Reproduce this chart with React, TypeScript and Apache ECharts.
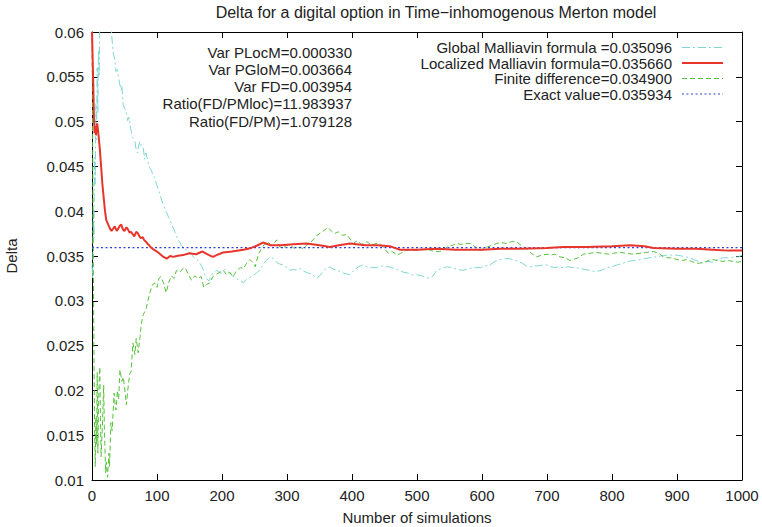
import React, { useEffect, useRef } from "react";
import * as echarts from "echarts";

const TITLE = "Delta for a digital option in Time\u2212inhomogenous Merton model";
const X_LABEL = "Number of simulations";
const Y_LABEL = "Delta";

const LEGEND_LABELS = [
  "Global Malliavin formula =0.035096",
  "Localized Malliavin formula=0.035660",
  "Finite difference=0.034900",
  "Exact value=0.035934",
];

const NOTES = [
  "Var PLocM=0.000330",
  "Var PGloM=0.003664",
  "Var FD=0.003954",
  "Ratio(FD/PMloc)=11.983937",
  "Ratio(FD/PM)=1.079128",
];

const globalMalliavin: [number, number][] = [
  [0, 0.034], [1, 0.0325], [2, 0.04], [3, 0.037], [4, 0.046], [5, 0.043], [6, 0.052], [7, 0.048],
  [8, 0.056], [9, 0.051], [10, 0.058], [11, 0.055], [12, 0.062], [14, 0.066], [17, 0.07], [20, 0.068],
  [23, 0.065], [25, 0.062], [27, 0.06], [29, 0.061], [31, 0.059], [33, 0.0575], [35, 0.057], [37, 0.0556],
  [39, 0.0558], [41, 0.0548], [43, 0.0541], [45, 0.0535], [46, 0.054], [48, 0.0519], [50, 0.0515],
  [52, 0.0512], [55, 0.0501], [57, 0.0505], [60, 0.049], [63, 0.0482], [66, 0.0478], [68, 0.0468],
  [70, 0.0465], [72, 0.0474], [74, 0.0478], [76, 0.0471], [79, 0.047], [81, 0.0458], [83, 0.0465],
  [86, 0.0455], [89, 0.0448], [91, 0.0446], [94, 0.044], [97, 0.0437], [99, 0.043], [101, 0.0427],
  [104, 0.042], [106, 0.0415], [109, 0.0409], [112, 0.0403], [115, 0.0398], [118, 0.0393], [120, 0.039],
  [123, 0.0384], [126, 0.038], [128, 0.0376], [130, 0.0373], [132, 0.0368], [135, 0.0366], [137, 0.0362],
  [140, 0.036], [143, 0.0358], [146, 0.0356], [149, 0.0354], [152, 0.0353], [156, 0.0349], [160, 0.0347],
  [163, 0.0345], [166, 0.0342], [170, 0.0337], [176, 0.0325], [180, 0.0322], [185, 0.033], [192, 0.0334],
  [198, 0.0331], [204, 0.0335], [210, 0.0332], [216, 0.0328], [222, 0.0325], [228, 0.0322], [233, 0.032],
  [238, 0.0324], [243, 0.0326], [248, 0.0328], [253, 0.0331], [258, 0.0334], [263, 0.034], [268, 0.0345],
  [274, 0.0349], [279, 0.0347], [284, 0.0343], [289, 0.0341], [294, 0.034], [300, 0.0337], [305, 0.0334],
  [310, 0.0335], [315, 0.0334], [320, 0.0336], [326, 0.0333], [332, 0.0331], [338, 0.033], [346, 0.0325],
  [352, 0.0329], [358, 0.0335], [362, 0.0336], [366, 0.0338], [372, 0.0335], [378, 0.0334], [386, 0.0331],
  [392, 0.033], [397, 0.0329], [403, 0.0334], [410, 0.0338], [417, 0.034], [423, 0.0338], [430, 0.0337],
  [438, 0.0337], [445, 0.0339], [452, 0.0338], [458, 0.0338], [465, 0.0336], [472, 0.0334], [479, 0.0332],
  [486, 0.0331], [493, 0.0329], [500, 0.0329], [507, 0.0328], [514, 0.0326], [520, 0.0325], [525, 0.0328],
  [530, 0.0334], [538, 0.0336], [546, 0.0338], [554, 0.0337], [562, 0.0335], [571, 0.0334], [580, 0.0336],
  [586, 0.0337], [592, 0.0337], [598, 0.0337], [605, 0.0339], [612, 0.034], [620, 0.0344], [628, 0.0346],
  [635, 0.0347], [642, 0.0347], [648, 0.0346], [655, 0.0344], [662, 0.0342], [668, 0.0339], [674, 0.0338],
  [680, 0.0339], [687, 0.0339], [694, 0.034], [700, 0.034], [706, 0.0338], [712, 0.0337], [718, 0.0338],
  [725, 0.0337], [732, 0.0338], [740, 0.0337], [746, 0.0337], [751, 0.0336], [758, 0.0335], [765, 0.0334],
  [771, 0.0333], [777, 0.0333], [784, 0.0334], [792, 0.0337], [800, 0.0338], [808, 0.034], [817, 0.0342],
  [825, 0.0344], [834, 0.0345], [843, 0.0346], [850, 0.0347], [857, 0.0348], [863, 0.0349], [869, 0.0349],
  [876, 0.035], [884, 0.0351], [892, 0.0351], [900, 0.0351], [907, 0.035], [914, 0.0349], [920, 0.0348],
  [926, 0.0346], [933, 0.0344], [940, 0.0342], [947, 0.0344], [955, 0.0343], [962, 0.0346], [971, 0.0348],
  [980, 0.0348], [988, 0.0349], [995, 0.0349], [1000, 0.0351],
];

const localizedMalliavin: [number, number][] = [
  [0, 0.06], [1, 0.057], [2, 0.054], [3, 0.0505], [4, 0.0487], [5, 0.0495], [6, 0.0485], [8, 0.0498],
  [9, 0.0492], [10, 0.0485], [12, 0.047], [14, 0.045], [16, 0.043], [18, 0.0415], [20, 0.04], [22, 0.039],
  [25, 0.0385], [28, 0.038], [30, 0.0378], [33, 0.0381], [35, 0.0383], [38, 0.0378], [40, 0.038],
  [43, 0.0384], [45, 0.0385], [48, 0.0379], [50, 0.0378], [53, 0.0382], [55, 0.038], [58, 0.0376],
  [60, 0.0377], [63, 0.0374], [65, 0.0372], [68, 0.0377], [70, 0.0376], [73, 0.0372], [75, 0.037],
  [78, 0.0371], [80, 0.0368], [83, 0.0366], [85, 0.0364], [88, 0.0362], [90, 0.036], [95, 0.0357],
  [100, 0.0355], [105, 0.0352], [110, 0.0349], [115, 0.0347], [120, 0.035], [125, 0.0349], [130, 0.035],
  [140, 0.0351], [150, 0.0353], [160, 0.0352], [170, 0.0355], [180, 0.0351], [186, 0.0349], [195, 0.0352],
  [202, 0.0354], [215, 0.0355], [233, 0.0357], [245, 0.0359], [255, 0.0362], [263, 0.0365], [275, 0.0362],
  [290, 0.0362], [310, 0.0363], [330, 0.0364], [350, 0.0362], [366, 0.036], [380, 0.0362], [397, 0.0364],
  [420, 0.0362], [440, 0.0362], [458, 0.0361], [474, 0.0357], [500, 0.0357], [530, 0.0358], [560, 0.0357],
  [600, 0.0357], [628, 0.0358], [660, 0.0358], [700, 0.0359], [725, 0.036], [760, 0.036], [800, 0.0361],
  [828, 0.0362], [850, 0.0361], [864, 0.0359], [900, 0.0358], [930, 0.0358], [955, 0.0357], [980, 0.0356],
  [1000, 0.0356],
];

const finiteDifference: [number, number][] = [
  [0, 0.062], [1, 0.048], [2, 0.035], [3, 0.024], [4, 0.016], [5, 0.0115], [6, 0.017], [7, 0.014],
  [8, 0.022], [9, 0.013], [10, 0.018], [11, 0.021], [12, 0.0226], [13, 0.017], [14, 0.0126], [16, 0.016],
  [18, 0.0206], [19, 0.016], [21, 0.0108], [22, 0.012], [24, 0.0103], [26, 0.013], [27, 0.0115],
  [29, 0.0164], [31, 0.0155], [34, 0.0197], [36, 0.018], [37, 0.0178], [39, 0.02], [41, 0.019],
  [43, 0.0223], [46, 0.021], [48, 0.0215], [50, 0.0204], [53, 0.0184], [55, 0.02], [58, 0.0219],
  [60, 0.022], [63, 0.0253], [66, 0.024], [68, 0.0258], [71, 0.0242], [74, 0.026], [76, 0.0275],
  [79, 0.0285], [83, 0.029], [86, 0.03], [89, 0.0309], [93, 0.0318], [97, 0.032], [100, 0.0315],
  [103, 0.0325], [106, 0.0327], [110, 0.032], [114, 0.0309], [118, 0.032], [122, 0.0328], [126, 0.0325],
  [130, 0.0334], [135, 0.0332], [140, 0.0336], [143, 0.0337], [148, 0.033], [153, 0.0323], [158, 0.0328],
  [163, 0.0325], [168, 0.0327], [172, 0.0315], [176, 0.0318], [181, 0.032], [186, 0.0327], [192, 0.033],
  [197, 0.0332], [202, 0.0334], [207, 0.0329], [212, 0.0332], [217, 0.0327], [222, 0.0333], [228, 0.0337],
  [233, 0.0336], [238, 0.0342], [243, 0.0346], [247, 0.0343], [251, 0.0338], [256, 0.0352], [260, 0.0357],
  [265, 0.0363], [270, 0.0366], [276, 0.0362], [281, 0.0365], [284, 0.0368], [289, 0.036], [294, 0.0359],
  [300, 0.0362], [305, 0.0362], [310, 0.0359], [315, 0.0359], [320, 0.036], [325, 0.0358], [330, 0.0362],
  [335, 0.0364], [340, 0.0368], [346, 0.0373], [352, 0.0376], [358, 0.0379], [363, 0.0382], [368, 0.0378],
  [373, 0.0375], [379, 0.0377], [385, 0.0373], [392, 0.0374], [397, 0.0369], [402, 0.0364], [408, 0.0367],
  [415, 0.0363], [423, 0.0366], [430, 0.0362], [437, 0.0364], [443, 0.0364], [450, 0.0358], [456, 0.0353],
  [462, 0.0355], [469, 0.0351], [475, 0.0353], [482, 0.0356], [489, 0.0357], [496, 0.0356], [503, 0.0357],
  [509, 0.0357], [516, 0.0358], [522, 0.0356], [529, 0.0355], [535, 0.0355], [541, 0.0357], [548, 0.0361],
  [555, 0.0362], [561, 0.0364], [568, 0.0363], [575, 0.0364], [582, 0.0364], [590, 0.036], [596, 0.0356],
  [602, 0.0358], [608, 0.036], [615, 0.0362], [623, 0.0364], [630, 0.0365], [637, 0.0364], [645, 0.0366],
  [653, 0.0366], [660, 0.0362], [669, 0.0358], [676, 0.0353], [684, 0.0349], [692, 0.0351], [700, 0.0352],
  [705, 0.0351], [712, 0.0352], [720, 0.0349], [728, 0.0348], [735, 0.0345], [740, 0.0346], [748, 0.0348],
  [756, 0.0352], [766, 0.0353], [775, 0.0354], [785, 0.0353], [795, 0.0352], [802, 0.0353], [812, 0.0354],
  [822, 0.0353], [832, 0.0352], [843, 0.0353], [853, 0.0354], [864, 0.0355], [872, 0.0353], [879, 0.0349],
  [885, 0.0348], [893, 0.0348], [900, 0.0346], [908, 0.0345], [915, 0.0346], [922, 0.0344], [929, 0.0342],
  [935, 0.0342], [942, 0.0343], [948, 0.0345], [955, 0.0346], [962, 0.0345], [970, 0.0344], [978, 0.0345],
  [986, 0.0344], [993, 0.0343], [1000, 0.0344],
];

const exactValue: [number, number][] = [
  [0, 0.035934],
  [1000, 0.035934],
];

const COLORS = ["#7fd6d2", "#e8352b", "#55c23a", "#2f44d6"];
const DASHES: (number[] | "solid")[] = [[8, 3, 2, 3], "solid", [5, 3], [2, 2.5]];
const WIDTHS = [1, 2, 1, 1.2];

const FONT = "Liberation Sans, Arial, Helvetica, sans-serif";

export default function App() {
  const ref = useRef<HTMLDivElement>(null);
  useEffect(() => {
    if (!ref.current) return;
    const chart = echarts.init(ref.current, undefined, { renderer: "svg" });
    const seriesData = [globalMalliavin, localizedMalliavin, finiteDifference, exactValue];
    const axisCommon = {
      type: "value" as const,
      axisLine: { show: true, onZero: false, lineStyle: { color: "#000", width: 1 } },
      axisTick: { show: true, inside: true, length: 6, lineStyle: { color: "#000" } },
      splitLine: { show: false },
    };
    const legendGraphics: any[] = [];
    LEGEND_LABELS.forEach((label, i) => {
      const y = 47.5 + i * 15.5;
      legendGraphics.push({
        type: "text",
        x: 672,
        y,
        style: {
          text: label,
          textAlign: "right",
          textVerticalAlign: "middle",
          font: `15px ${FONT}`,
          fill: "#222",
        },
      });
      legendGraphics.push({
        type: "line",
        shape: { x1: 682, y1: y, x2: 723, y2: y },
        style: {
          stroke: COLORS[i],
          lineWidth: WIDTHS[i],
          lineDash: DASHES[i] === "solid" ? null : DASHES[i],
        },
      });
    });
    NOTES.forEach((note, i) => {
      legendGraphics.push({
        type: "text",
        x: 352,
        y: 52 + i * 17.3,
        style: {
          text: note,
          textAlign: "right",
          textVerticalAlign: "middle",
          font: `15px ${FONT}`,
          fill: "#222",
        },
      });
    });
    legendGraphics.push({
      type: "text",
      x: 436,
      y: 12,
      style: {
        text: TITLE,
        textAlign: "center",
        textVerticalAlign: "middle",
        font: `16px ${FONT}`,
        fill: "#222",
      },
    });
    chart.setOption({
      animation: false,
      backgroundColor: "#fff",
      textStyle: { fontFamily: FONT },
      grid: {
        left: 92,
        right: 20,
        top: 32,
        bottom: 47,
        containLabel: false,
        outerBoundsMode: "none",
      },
      xAxis: [
        {
          ...axisCommon,
          position: "bottom",
          min: 0,
          max: 1000,
          interval: 100,
          name: X_LABEL,
          nameLocation: "middle",
          nameGap: 30,
          nameTextStyle: { fontSize: 15, color: "#222", fontFamily: FONT },
          axisLabel: {
            fontSize: 15,
            color: "#222",
            margin: 8,
            fontFamily: FONT,
            formatter: (v: number) => String(v),
          },
        },
        {
          ...axisCommon,
          position: "top",
          min: 0,
          max: 1000,
          interval: 100,
          axisLabel: { show: false },
        },
      ],
      yAxis: [
        {
          ...axisCommon,
          position: "left",
          min: 0.01,
          max: 0.06,
          interval: 0.005,
          name: Y_LABEL,
          nameLocation: "middle",
          nameGap: 73,
          nameRotate: 90,
          nameTextStyle: { fontSize: 15, color: "#222", fontFamily: FONT },
          axisLabel: {
            fontSize: 15,
            color: "#222",
            margin: 8,
            fontFamily: FONT,
            formatter: (v: number) => String(parseFloat(v.toFixed(4))),
          },
        },
        {
          ...axisCommon,
          position: "right",
          min: 0.01,
          max: 0.06,
          interval: 0.005,
          axisLabel: { show: false },
        },
      ],
      series: LEGEND_LABELS.map((name, i) => ({
        name,
        type: "line",
        xAxisIndex: 0,
        yAxisIndex: 0,
        data: seriesData[i],
        showSymbol: false,
        symbol: "none",
        clip: true,
        z: i === 1 ? 5 : i === 3 ? 4 : 3,
        lineStyle: {
          color: COLORS[i],
          width: WIDTHS[i],
          type: DASHES[i],
        },
      })),
      graphic: legendGraphics,
    });
    return () => chart.dispose();
  }, []);
  return (
    <div
      ref={ref}
      style={{ position: "fixed", left: 0, top: 0, width: 762, height: 527, background: "#fff" }}
    />
  );
}
